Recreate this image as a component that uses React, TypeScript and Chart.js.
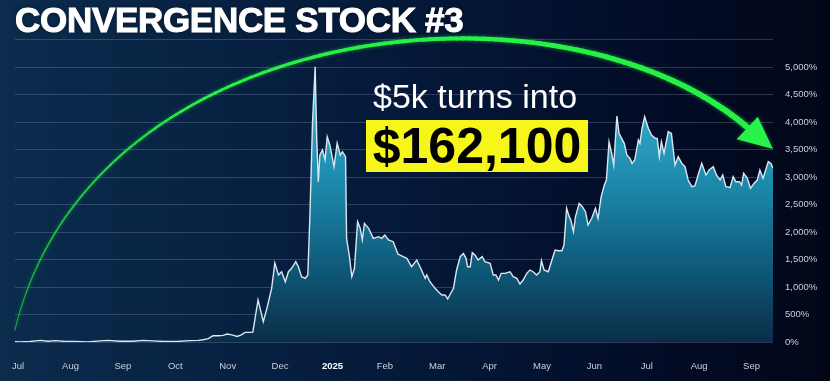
import { useEffect, useRef } from "react";
import { Chart, registerables } from "chart.js";

Chart.register(...registerables);

// Month tick labels (Jul 2024 .. Sep 2025)
const monthLabels = ["Jul", "Aug", "Sep", "Oct", "Nov", "Dec", "2025", "Feb", "Mar", "Apr", "May", "Jun", "Jul", "Aug", "Sep"];

// y-axis ticks (% return)
const yTickValues = [0, 500, 1000, 1500, 2000, 2500, 3000, 3500, 4000, 4500, 5000, 5500];

// time position in months since Jul 1 2024
const monthPos = [
  -0.06, 0.04, 0.23, 0.42, 0.57, 0.71, 0.9, 1.09, 1.32, 1.51, 1.7, 1.95, 2.18, 2.39, 2.58, 2.77, 3.03, 3.28, 3.44, 3.53,
  3.63, 3.72, 3.82, 3.91, 3.99, 4.08, 4.18, 4.26, 4.33, 4.43, 4.48, 4.58, 4.68, 4.75, 4.84, 4.9, 4.97, 5.03, 5.1, 5.16,
  5.22, 5.3, 5.35, 5.41, 5.48, 5.53, 5.57, 5.62, 5.67, 5.7, 5.73, 5.76, 5.81, 5.86, 5.9, 5.95, 6.03, 6.09, 6.15, 6.19,
  6.25, 6.27, 6.32, 6.37, 6.42, 6.48, 6.53, 6.57, 6.61, 6.69, 6.78, 6.88, 6.94, 7.0, 7.07, 7.16, 7.25, 7.35, 7.42, 7.51,
  7.61, 7.7, 7.77, 7.8, 7.86, 7.96, 8.02, 8.09, 8.15, 8.2, 8.24, 8.31, 8.37, 8.44, 8.5, 8.55, 8.58, 8.63, 8.67, 8.72,
  8.78, 8.86, 8.91, 9.01, 9.07, 9.12, 9.17, 9.22, 9.29, 9.39, 9.45, 9.52, 9.58, 9.64, 9.71, 9.77, 9.83, 9.9, 9.96, 9.99,
  10.04, 10.12, 10.19, 10.25, 10.31, 10.38, 10.42, 10.47, 10.52, 10.55, 10.6, 10.64, 10.71, 10.77, 10.83, 10.88, 10.95, 11.02, 11.07, 11.13,
  11.19, 11.23, 11.28, 11.33, 11.37, 11.43, 11.47, 11.52, 11.57, 11.62, 11.68, 11.72, 11.77, 11.84, 11.87, 11.91, 11.96, 12.03, 12.09, 12.16,
  12.2, 12.24, 12.28, 12.33, 12.41, 12.47, 12.54, 12.6, 12.67, 12.73, 12.79, 12.86, 12.92, 12.98, 13.05, 13.13, 13.19, 13.27, 13.33, 13.4,
  13.45, 13.51, 13.59, 13.65, 13.7, 13.77, 13.81, 13.85, 13.92, 13.98, 14.05, 14.11, 14.16, 14.22, 14.32, 14.37, 14.41,
];

// cumulative return in %
const returnPct = [
  5, 0, 10, 30, 15, 25, 10, 10, 0, 15, 30, 15, 15, 30, 20, 10, 10, 25, 30, 40,
  60, 115, 115, 120, 145, 130, 100, 130, 175, 175, 180, 765, 370, 617, 980, 1436, 1218, 1278, 1096, 1278,
  1340, 1460, 1369, 1187, 1158, 1218, 2309, 4005, 5005, 3703, 2914, 3400, 3491, 3309, 3733, 3582, 3187, 3612, 3400, 3460,
  3369, 1885, 1582, 1187, 1340, 2188, 2067, 1855, 2158, 2067, 1885, 1915, 1885, 1945, 1855, 1824, 1600, 1551, 1521, 1369,
  1491, 1309, 1158, 1218, 1096, 976, 915, 855, 855, 782, 855, 976, 1309, 1551, 1612, 1521, 1369, 1369, 1624, 1582,
  1491, 1551, 1460, 1430, 1218, 1218, 1127, 1248, 1248, 1278, 1187, 1158, 1054, 1127, 1248, 1309, 1278, 1218, 1278, 1479,
  1309, 1278, 1491, 1670, 1660, 1660, 1764, 2431, 2279, 2218, 2006, 2279, 2521, 2460, 2369, 2127, 2249, 2431, 2249, 2642,
  2854, 2945, 3641, 3430, 3218, 4109, 3794, 3703, 3612, 3400, 3339, 3248, 3309, 3673, 3612, 3885, 4096, 3885, 3764, 3703,
  3700, 3369, 3641, 3430, 3824, 3794, 3218, 3369, 3248, 3187, 2945, 2824, 2836, 3036, 3248, 3036, 3127, 3187, 3036, 2945,
  3036, 2824, 2812, 3006, 2915, 2915, 2854, 3067, 2976, 2794, 2885, 2945, 3127, 2976, 3279, 3248, 3158,
];

const W = 830;
const H = 381;

const arrowPlugin = {
  id: "greenArrow",
  afterDraw(chart: any) {
    const { ctx, chartArea } = chart;
    const L = chartArea.left;
    const R = chartArea.right;
    const T = chartArea.top;
    const B = chartArea.bottom;
    const w = R - L;
    const h = B - T;
    const px = (fx: number) => L + fx * w;
    const py = (fy: number) => T + fy * h;
    const p0 = [px(0), py(0.96)];
    const p1 = [px(0.099), py(-0.075)];
    const p2 = [px(0.719), py(-0.24)];
    const p3 = [px(0.967), py(0.292)];
    const bez = (t: number) => {
      const u = 1 - t;
      const a = u * u * u, b = 3 * u * u * t, c = 3 * u * t * t, d = t * t * t;
      return [a * p0[0] + b * p1[0] + c * p2[0] + d * p3[0], a * p0[1] + b * p1[1] + c * p2[1] + d * p3[1]];
    };
    ctx.save();
    ctx.lineCap = "round";
    ctx.shadowColor = "rgba(40,255,80,0.35)";
    ctx.shadowBlur = 4;
    const N = 140;
    let prev = bez(0);
    for (let i = 1; i <= N; i++) {
      const t = i / N;
      const cur = bez(t);
      const k = Math.min(1, t * 3);
      ctx.strokeStyle = `rgb(${Math.round(25 + 15 * k)},${Math.round(160 + 80 * k)},${Math.round(60 + 10 * k)})`;
      ctx.lineWidth = 1.1 + 4.8 * t;
      ctx.beginPath();
      ctx.moveTo(prev[0], prev[1]);
      ctx.lineTo(cur[0], cur[1]);
      ctx.stroke();
      prev = cur;
    }
    // arrow head
    ctx.fillStyle = "#28f24c";
    ctx.beginPath();
    ctx.moveTo(R, py(0.362));
    ctx.lineTo(px(0.98), py(0.255));
    ctx.lineTo(px(0.952), py(0.33));
    ctx.closePath();
    ctx.fill();
    ctx.restore();
  },
};

export default function App() {
  const ref = useRef<HTMLCanvasElement | null>(null);

  useEffect(() => {
    const canvas = ref.current;
    if (!canvas) return;
    const points = monthPos.map((x, i) => ({ x, y: returnPct[i] }));
    const chart = new Chart(canvas, {
      type: "line",
      data: {
        datasets: [
          {
            data: points,
            borderColor: "#dbe7f0",
            borderWidth: 1.4,
            pointRadius: 0,
            tension: 0,
            fill: "origin",
            backgroundColor: (c: any) => {
              const ch = c.chart;
              const area = ch.chartArea;
              if (!area) return "rgba(20,130,170,0.8)";
              const top = ch.scales.y.getPixelForValue(5000);
              const g = ch.ctx.createLinearGradient(0, top, 0, area.bottom);
              g.addColorStop(0, "#63cbe6");
              g.addColorStop(0.25, "#2a9ec0");
              g.addColorStop(0.45, "#1a86a8");
              g.addColorStop(0.75, "#0e5676");
              g.addColorStop(1, "#0a2d48");
              return g;
            },
          },
        ],
      },
      options: {
        animation: false,
        responsive: false,
        devicePixelRatio: 1,
        layout: { padding: { left: 15, top: 39.5, right: 0, bottom: 0 } },
        plugins: { legend: { display: false }, tooltip: { enabled: false } },
        scales: {
          x: {
            type: "linear",
            min: -0.06,
            max: 14.41,
            grid: { display: false },
            border: { display: false },
            afterBuildTicks: (s: any) => {
              s.ticks = monthLabels.map((_, i) => ({ value: i }));
            },
            afterFit: (s: any) => {
              s.height = 39;
            },
            ticks: {
              autoSkip: false,
              maxRotation: 0,
              padding: 11,
              callback: (v: any) => monthLabels[v] ?? "",
              color: (c: any) => (monthLabels[c.tick?.value] === "2025" ? "#ffffff" : "#c9cfd9"),
              font: (c: any) => ({
                family: "'Liberation Sans', Arial, sans-serif",
                size: 9.5,
                weight: monthLabels[c.tick?.value] === "2025" ? "bold" : "normal",
              }),
            },
          },
          y: {
            position: "right",
            min: 0,
            max: 5500,
            afterBuildTicks: (s: any) => {
              s.ticks = yTickValues.map((v) => ({ value: v }));
            },
            afterFit: (s: any) => {
              s.width = 57;
            },
            grid: { color: "rgba(140,155,185,0.3)", lineWidth: 1, drawTicks: false },
            border: { display: false },
            ticks: {
              padding: 12,
              color: "#c9cfd9",
              font: { family: "'Liberation Sans', Arial, sans-serif", size: 9.5 },
              callback: (v: any) => (v === 5500 ? "" : Number(v).toLocaleString("en-US") + "%"),
            },
          },
        },
      },
      plugins: [arrowPlugin],
    } as any);
    return () => chart.destroy();
  }, []);

  return (
    <div
      style={{
        position: "fixed",
        left: 0,
        top: 0,
        width: W,
        height: H,
        overflow: "hidden",
        background: "linear-gradient(90deg, #0b2c4d 0%, #072041 30%, #041636 55%, #030c26 80%, #020718 100%)",
        fontFamily: "'Liberation Sans', Arial, sans-serif",
      }}
    >
      <canvas ref={ref} width={W} height={H} style={{ position: "absolute", left: 0, top: 0, width: W, height: H }} />
      <div
        style={{
          position: "absolute",
          left: 15,
          top: 0,
          fontSize: 35,
          lineHeight: "40px",
          fontWeight: 900,
          color: "#ffffff",
          letterSpacing: "-0.3px",
          WebkitTextStroke: "1px #ffffff",
          textShadow: "0 0 4px rgba(0,0,0,0.6)",
          whiteSpace: "nowrap",
        }}
      >
        CONVERGENCE STOCK #3
      </div>
      <div
        style={{
          position: "absolute",
          left: 373,
          top: 76,
          fontSize: 34,
          lineHeight: "40px",
          color: "#ffffff",
          whiteSpace: "nowrap",
        }}
      >
        $5k turns into
      </div>
      <div
        style={{
          position: "absolute",
          left: 366,
          top: 120,
          width: 222,
          height: 52,
          background: "#f6f61a",
        }}
      />
      <div
        style={{
          position: "absolute",
          left: 370,
          top: 118,
          width: 214,
          textAlign: "center",
          fontSize: 50,
          lineHeight: "56px",
          fontWeight: 700,
          color: "#000000",
          whiteSpace: "nowrap",
        }}
      >
        $162,100
      </div>
    </div>
  );
}
